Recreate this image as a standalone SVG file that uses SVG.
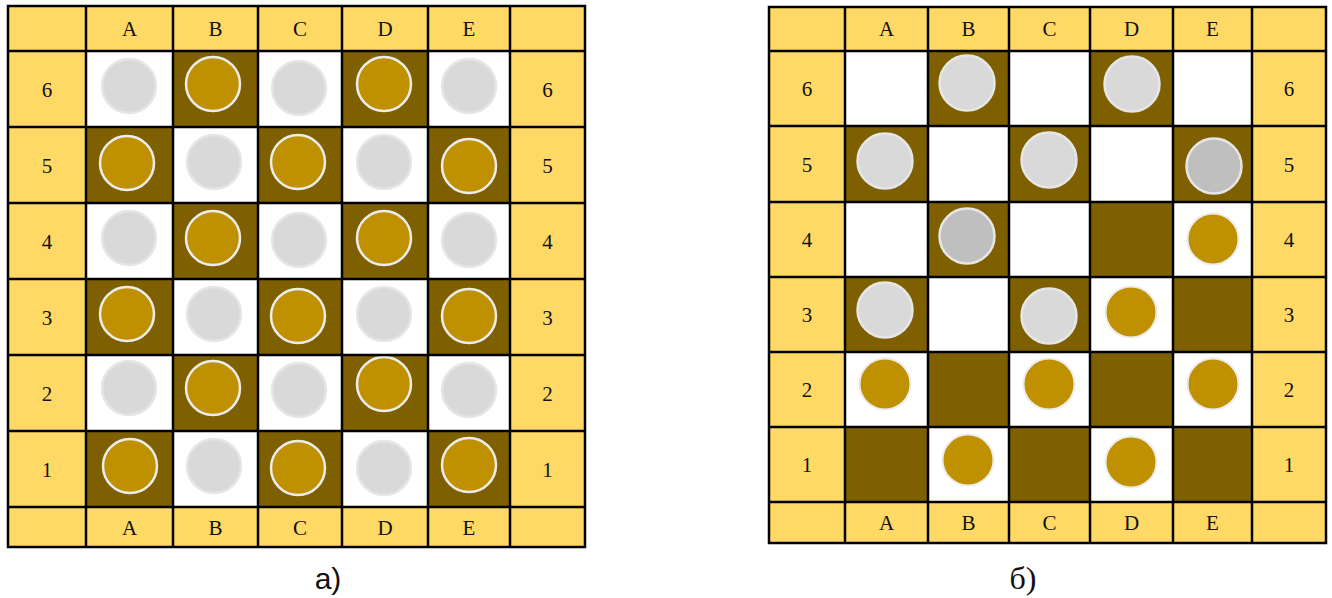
<svg xmlns="http://www.w3.org/2000/svg" width="1332" height="598" viewBox="0 0 1332 598">
<style>
.y{fill:#ffd966}
.w{fill:#ffffff}
.d{fill:#7f6000}
.g{fill:#d9d9d9;stroke:#e6e6e6;stroke-width:2.5}
.g2{fill:#bfbfbf;stroke:#e6e6e6;stroke-width:2.5}
.o{fill:#bf9000;stroke:#ececec;stroke-width:2.5}
.o2{fill:#bf9000;stroke:#ececec;stroke-width:2}
.ln{stroke:#000;stroke-width:2.5;fill:none}
.t{font-family:"Liberation Serif","Times New Roman",serif;font-size:21px;fill:#111;text-anchor:middle}
.cap{font-family:"Liberation Sans",Arial,sans-serif;font-size:30px;fill:#111;text-anchor:middle}
.capS{font-family:"Liberation Serif","Times New Roman",serif;font-size:32px;fill:#111;text-anchor:middle}
</style>
<rect width="1332" height="598" fill="#fff"/>

<!-- Board a -->
<g id="board-a">
<rect class="y" x="8" y="6" width="577" height="541"/>
<!-- row 6 -->
<rect class="w" x="86" y="51" width="87" height="76"/><rect class="d" x="173" y="51" width="85" height="76"/><rect class="w" x="258" y="51" width="84" height="76"/><rect class="d" x="342" y="51" width="86" height="76"/><rect class="w" x="428" y="51" width="82" height="76"/>
<!-- row 5 -->
<rect class="d" x="86" y="127" width="87" height="76"/><rect class="w" x="173" y="127" width="85" height="76"/><rect class="d" x="258" y="127" width="84" height="76"/><rect class="w" x="342" y="127" width="86" height="76"/><rect class="d" x="428" y="127" width="82" height="76"/>
<!-- row 4 -->
<rect class="w" x="86" y="203" width="87" height="76"/><rect class="d" x="173" y="203" width="85" height="76"/><rect class="w" x="258" y="203" width="84" height="76"/><rect class="d" x="342" y="203" width="86" height="76"/><rect class="w" x="428" y="203" width="82" height="76"/>
<!-- row 3 -->
<rect class="d" x="86" y="279" width="87" height="76"/><rect class="w" x="173" y="279" width="85" height="76"/><rect class="d" x="258" y="279" width="84" height="76"/><rect class="w" x="342" y="279" width="86" height="76"/><rect class="d" x="428" y="279" width="82" height="76"/>
<!-- row 2 -->
<rect class="w" x="86" y="355" width="87" height="76"/><rect class="d" x="173" y="355" width="85" height="76"/><rect class="w" x="258" y="355" width="84" height="76"/><rect class="d" x="342" y="355" width="86" height="76"/><rect class="w" x="428" y="355" width="82" height="76"/>
<!-- row 1 -->
<rect class="d" x="86" y="431" width="87" height="76"/><rect class="w" x="173" y="431" width="85" height="76"/><rect class="d" x="258" y="431" width="84" height="76"/><rect class="w" x="342" y="431" width="86" height="76"/><rect class="d" x="428" y="431" width="82" height="76"/>

<!-- pieces -->
<circle class="g" cx="129" cy="86" r="27"/><circle class="o" cx="213" cy="84" r="27"/><circle class="g" cx="299" cy="88" r="27"/><circle class="o" cx="384" cy="84" r="27"/><circle class="g" cx="469" cy="86" r="27"/>
<circle class="o" cx="127" cy="163" r="27"/><circle class="g" cx="214" cy="162" r="27"/><circle class="o" cx="298" cy="162" r="27"/><circle class="g" cx="384" cy="162" r="27"/><circle class="o" cx="469" cy="166" r="27"/>
<circle class="g" cx="129" cy="238" r="27"/><circle class="o" cx="213" cy="238" r="27"/><circle class="g" cx="299" cy="240" r="27"/><circle class="o" cx="384" cy="238" r="27"/><circle class="g" cx="469" cy="240" r="27"/>
<circle class="o" cx="127" cy="314" r="27"/><circle class="g" cx="214" cy="314" r="27"/><circle class="o" cx="298" cy="316" r="27"/><circle class="g" cx="384" cy="314" r="27"/><circle class="o" cx="469" cy="316" r="27"/>
<circle class="g" cx="129" cy="388" r="27"/><circle class="o" cx="213" cy="388" r="27"/><circle class="g" cx="299" cy="390" r="27"/><circle class="o" cx="384" cy="384" r="27"/><circle class="g" cx="469" cy="390" r="27"/>
<circle class="o" cx="130" cy="466" r="27"/><circle class="g" cx="214" cy="466" r="27"/><circle class="o" cx="298" cy="468" r="27"/><circle class="g" cx="384" cy="468" r="27"/><circle class="o" cx="469" cy="465" r="27"/>

<!-- grid lines -->
<path class="ln" d="M86 6V547M173 6V547M258 6V547M342 6V547M428 6V547M510 6V547M8 51H585M8 127H585M8 203H585M8 279H585M8 355H585M8 431H585M8 507H585"/>
<rect class="ln" x="8" y="6" width="577" height="541" stroke-width="3"/>

<!-- labels -->
<text class="t" x="129.5" y="36">A</text><text class="t" x="215.5" y="36">B</text><text class="t" x="300" y="36">C</text><text class="t" x="385" y="36">D</text><text class="t" x="469" y="36">E</text>
<text class="t" x="129.5" y="535">A</text><text class="t" x="215.5" y="535">B</text><text class="t" x="300" y="535">C</text><text class="t" x="385" y="535">D</text><text class="t" x="469" y="535">E</text>
<text class="t" x="47" y="97">6</text><text class="t" x="47" y="173">5</text><text class="t" x="47" y="249">4</text><text class="t" x="47" y="325">3</text><text class="t" x="47" y="401">2</text><text class="t" x="47" y="477">1</text>
<text class="t" x="547.5" y="97">6</text><text class="t" x="547.5" y="173">5</text><text class="t" x="547.5" y="249">4</text><text class="t" x="547.5" y="325">3</text><text class="t" x="547.5" y="401">2</text><text class="t" x="547.5" y="477">1</text>
</g>

<!-- Board b -->
<g id="board-b">
<rect class="y" x="769" y="7" width="557" height="536"/>
<!-- row 6 -->
<rect class="w" x="845" y="51" width="83" height="75"/><rect class="d" x="928" y="51" width="81" height="75"/><rect class="w" x="1009" y="51" width="81" height="75"/><rect class="d" x="1090" y="51" width="83" height="75"/><rect class="w" x="1173" y="51" width="79" height="75"/>
<!-- row 5 -->
<rect class="d" x="845" y="126" width="83" height="76"/><rect class="w" x="928" y="126" width="81" height="76"/><rect class="d" x="1009" y="126" width="81" height="76"/><rect class="w" x="1090" y="126" width="83" height="76"/><rect class="d" x="1173" y="126" width="79" height="76"/>
<!-- row 4 -->
<rect class="w" x="845" y="202" width="83" height="75"/><rect class="d" x="928" y="202" width="81" height="75"/><rect class="w" x="1009" y="202" width="81" height="75"/><rect class="d" x="1090" y="202" width="83" height="75"/><rect class="w" x="1173" y="202" width="79" height="75"/>
<!-- row 3 -->
<rect class="d" x="845" y="277" width="83" height="75"/><rect class="w" x="928" y="277" width="81" height="75"/><rect class="d" x="1009" y="277" width="81" height="75"/><rect class="w" x="1090" y="277" width="83" height="75"/><rect class="d" x="1173" y="277" width="79" height="75"/>
<!-- row 2 -->
<rect class="w" x="845" y="352" width="83" height="75"/><rect class="d" x="928" y="352" width="81" height="75"/><rect class="w" x="1009" y="352" width="81" height="75"/><rect class="d" x="1090" y="352" width="83" height="75"/><rect class="w" x="1173" y="352" width="79" height="75"/>
<!-- row 1 -->
<rect class="d" x="845" y="427" width="83" height="75"/><rect class="w" x="928" y="427" width="81" height="75"/><rect class="d" x="1009" y="427" width="81" height="75"/><rect class="w" x="1090" y="427" width="83" height="75"/><rect class="d" x="1173" y="427" width="79" height="75"/>

<!-- pieces -->
<circle class="g" cx="967" cy="83" r="27.5"/><circle class="g" cx="1132" cy="84" r="27.5"/>
<circle class="g" cx="885" cy="161" r="27.5"/><circle class="g" cx="1049" cy="160" r="27.5"/><circle class="g2" cx="1214" cy="166" r="27.5"/>
<circle class="g2" cx="967" cy="236" r="27.5"/><circle class="o2" cx="1213" cy="239" r="25.5"/>
<circle class="g" cx="885" cy="310" r="27.5"/><circle class="g" cx="1049" cy="316" r="27.5"/><circle class="o2" cx="1131" cy="312" r="25.5"/>
<circle class="o2" cx="885" cy="384" r="25.5"/><circle class="o2" cx="1049" cy="384" r="25.5"/><circle class="o2" cx="1213" cy="384" r="25.5"/>
<circle class="o2" cx="968" cy="460" r="25.5"/><circle class="o2" cx="1131" cy="462" r="25.5"/>

<!-- grid lines -->
<path class="ln" d="M845 7V543M928 7V543M1009 7V543M1090 7V543M1173 7V543M1252 7V543M769 51H1326M769 126H1326M769 202H1326M769 277H1326M769 352H1326M769 427H1326M769 502H1326"/>
<rect class="ln" x="769" y="7" width="557" height="536" stroke-width="3"/>

<!-- labels -->
<text class="t" x="886.5" y="36">A</text><text class="t" x="968.5" y="36">B</text><text class="t" x="1049.5" y="36">C</text><text class="t" x="1131.5" y="36">D</text><text class="t" x="1212.5" y="36">E</text>
<text class="t" x="886.5" y="530">A</text><text class="t" x="968.5" y="530">B</text><text class="t" x="1049.5" y="530">C</text><text class="t" x="1131.5" y="530">D</text><text class="t" x="1212.5" y="530">E</text>
<text class="t" x="807" y="96">6</text><text class="t" x="807" y="172">5</text><text class="t" x="807" y="247">4</text><text class="t" x="807" y="322">3</text><text class="t" x="807" y="397">2</text><text class="t" x="807" y="472">1</text>
<text class="t" x="1289" y="96">6</text><text class="t" x="1289" y="172">5</text><text class="t" x="1289" y="247">4</text><text class="t" x="1289" y="322">3</text><text class="t" x="1289" y="397">2</text><text class="t" x="1289" y="472">1</text>
</g>

<g id="captions">
<text class="cap" x="328" y="589">а)</text>
<text class="capS" x="1023" y="589">б)</text>
</g>
</svg>
